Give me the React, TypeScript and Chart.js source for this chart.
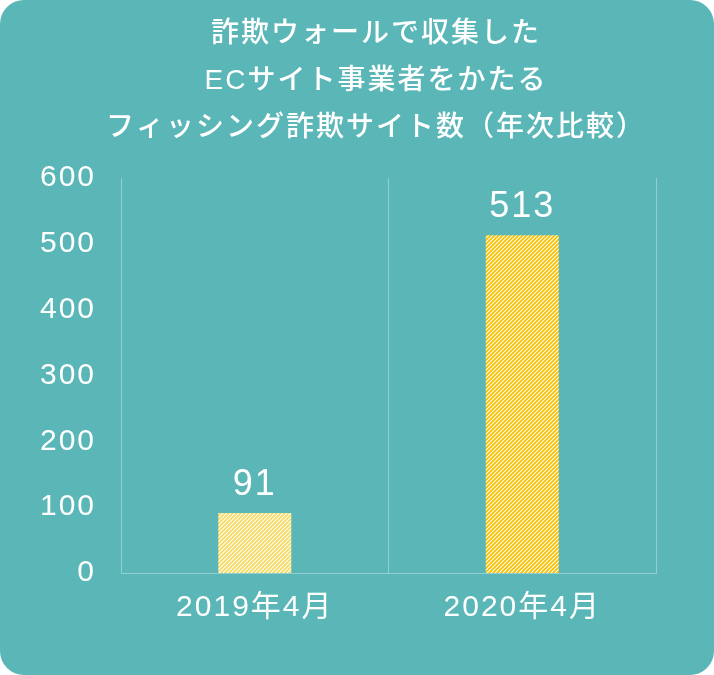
import { useEffect, useRef } from "react";
import { Chart, registerables, ChartConfiguration, Plugin } from "chart.js";

Chart.register(...registerables);

const titleLines = [
  "詐欺ウォールで収集した",
  "ECサイト事業者をかたる",
  "フィッシング詐欺サイト数（年次比較）",
];
const categories = ["2019年4月", "2020年4月"];
const siteCounts = [91, 513];
const yTicks = [0, 100, 200, 300, 400, 500, 600];

const TEAL = "#5ab6b7";
const GRID = "rgba(255,255,255,0.35)";
const FONT = "'Liberation Sans', 'Noto Sans CJK JP', sans-serif";

// small diagonal stripe tile, white "/" lines over the base colour
function hatch(ctx: CanvasRenderingContext2D, base: string) {
  const c = document.createElement("canvas");
  c.width = 4;
  c.height = 4;
  const g = c.getContext("2d")!;
  g.fillStyle = base;
  g.fillRect(0, 0, 4, 4);
  g.strokeStyle = "#ffffff";
  g.lineWidth = 1.05;
  g.beginPath();
  g.moveTo(-1, 5);
  g.lineTo(5, -1);
  g.moveTo(-1, 1);
  g.lineTo(1, -1);
  g.moveTo(3, 5);
  g.lineTo(5, 3);
  g.stroke();
  return ctx.createPattern(c, "repeat")!;
}

const spacing: Plugin = {
  id: "spacing",
  beforeLayout(chart) {
    (chart.ctx as any).letterSpacing = "2px";
  },
  beforeDraw(chart) {
    (chart.ctx as any).letterSpacing = "2px";
  },
};

// the title sits a little right of the page centre in the original, so draw it by hand
const titleBlock: Plugin = {
  id: "titleBlock",
  afterDraw(chart) {
    const ctx = chart.ctx;
    ctx.save();
    (ctx as any).letterSpacing = "2px";
    ctx.fillStyle = "#ffffff";
    ctx.font = `500 28px ${FONT}`;
    ctx.textAlign = "center";
    ctx.textBaseline = "middle";
    titleLines.forEach((line, i) => {
      ctx.fillText(line, 376, 34 + i * 47);
    });
    ctx.restore();
  },
};

const valueLabels: Plugin = {
  id: "valueLabels",
  afterDatasetsDraw(chart) {
    const ctx = chart.ctx;
    const meta = chart.getDatasetMeta(0);
    ctx.save();
    ctx.fillStyle = "#ffffff";
    ctx.font = `36px ${FONT}`;
    ctx.textAlign = "center";
    ctx.textBaseline = "alphabetic";
    meta.data.forEach((bar: any, i) => {
      ctx.fillText(String(siteCounts[i]), bar.x, bar.y - 18);
    });
    ctx.restore();
  },
};

export default function App() {
  const canvasRef = useRef<HTMLCanvasElement>(null);

  useEffect(() => {
    document.body.style.margin = "0";
    if (!canvasRef.current) return;
    const ctx = canvasRef.current.getContext("2d")!;

    const config: ChartConfiguration<"bar", number[], string> = {
      type: "bar",
      data: {
        labels: categories,
        datasets: [
          {
            data: siteCounts,
            backgroundColor: [hatch(ctx, "#f7da60"), hatch(ctx, "#f9c000")],
            borderWidth: 0,
            categoryPercentage: 1,
            barPercentage: 0.273,
          },
        ],
      },
      options: {
        responsive: false,
        animation: false,
        layout: { padding: { left: 15, right: 58, top: 178, bottom: 32 } },
        plugins: {
          legend: { display: false },
          tooltip: { enabled: false },
          title: { display: false },
        },
        scales: {
          x: {
            offset: true,
            grid: { color: GRID, drawTicks: false, lineWidth: 1 },
            border: { color: GRID },
            ticks: { color: "#ffffff", font: { size: 30, family: FONT }, padding: 17 },
          },
          y: {
            min: 0,
            max: 600,
            afterBuildTicks: (scale) => {
              scale.ticks = yTicks.map((v) => ({ value: v }));
            },
            grid: { display: false, drawTicks: false },
            border: { display: false },
            ticks: { color: "#ffffff", font: { size: 30, family: FONT }, padding: 25 },
          },
        },
      },
      plugins: [spacing, titleBlock, valueLabels],
    };

    const chart = new Chart(ctx, config);
    return () => {
      chart.destroy();
    };
  }, []);

  return (
    <div
      style={{
        width: 714,
        height: 675,
        background: TEAL,
        borderRadius: 24,
        overflow: "hidden",
      }}
    >
      <canvas ref={canvasRef} width={714} height={675} />
    </div>
  );
}
